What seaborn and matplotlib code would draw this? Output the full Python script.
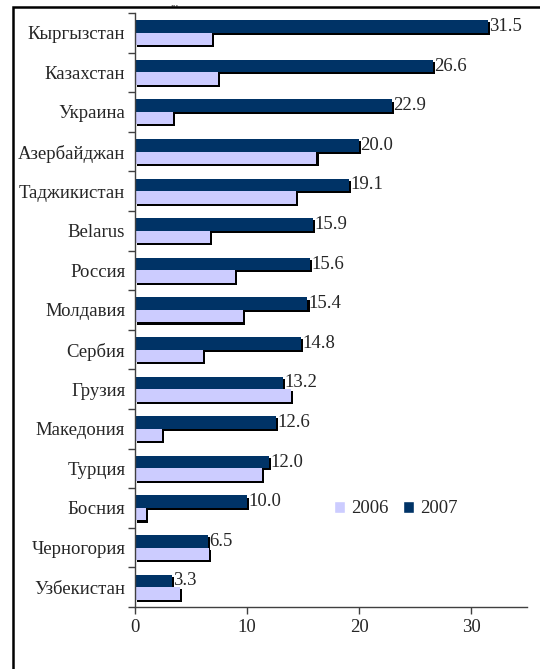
"""Horizontal bar chart 2006 vs 2007 by country."""

import matplotlib.pyplot as plt
import matplotlib.patheffects as pe
import pandas as pd
import seaborn as sns
from matplotlib.patches import Patch, Rectangle
from matplotlib.ticker import FixedLocator

countries = [
    "Кыргызстан", "Казахстан", "Украина", "Азербайджан", "Таджикистан",
    "Belarus", "Россия", "Молдавия", "Сербия", "Грузия",
    "Македония", "Турция", "Босния", "Черногория", "Узбекистан",
]
values_2006 = [6.9, 7.4, 3.4, 16.2, 14.4, 6.7, 8.9, 9.6, 6.1, 13.9,
               2.4, 11.3, 1.0, 6.6, 4.0]
values_2007 = [31.5, 26.6, 22.9, 20.0, 19.1, 15.9, 15.6, 15.4, 14.8, 13.2,
               12.6, 12.0, 10.0, 6.5, 3.3]
years = ["2006", "2007"]
colors = {"2006": "#CCCCFF", "2007": "#003366"}

df = pd.DataFrame({
    "country": countries * 2,
    "value": values_2006 + values_2007,
    "year": ["2006"] * len(countries) + ["2007"] * len(countries),
})

sns.set_theme(style="white")
plt.rcParams["font.family"] = ["Liberation Serif", "DejaVu Serif"]
fs = 13.5

fig = plt.figure(figsize=(5.4, 6.69), dpi=100)
ax = fig.add_axes([0.25, 0.0927, 0.726, 0.888])

sns.barplot(
    data=df, y="country", x="value", hue="year",
    hue_order=["2007", "2006"], palette=colors, order=countries,
    width=0.63, orient="h", legend=False, ax=ax, saturation=1,
    linewidth=0, edgecolor="none",
)

shadow = [pe.SimplePatchShadow(offset=(1.5, -1.5), shadow_rgbFace="black",
                               alpha=1.0), pe.Normal()]
for bar in ax.patches:
    bar.set_path_effects(shadow)

ax.bar_label(ax.containers[0], fmt="%.1f", padding=1, fontsize=fs)

ax.set_xlim(0, 35)
ax.set_ylim(len(countries) - 0.5, -0.5)
ax.set_xticks([0, 10, 20, 30])
ax.set_xlabel("")
ax.set_ylabel("")

# tick marks between categories
ax.yaxis.set_minor_locator(FixedLocator([i - 0.5 for i in range(len(countries) + 1)]))
ax.tick_params(axis="y", which="major", length=0, labelsize=fs, pad=7)
ax.tick_params(axis="y", which="minor", left=True, length=5, width=1,
               color="#404040")
ax.tick_params(axis="x", which="major", bottom=True, length=5, width=1,
               color="#404040", labelsize=fs, pad=4)

for side in ["top", "right"]:
    ax.spines[side].set_visible(False)
for side in ["left", "bottom"]:
    ax.spines[side].set_color("#404040")
    ax.spines[side].set_linewidth(1)

handles = [Patch(facecolor=colors[y], label=y) for y in years]
ax.legend(handles=handles, ncol=2, frameon=False, loc="center",
          bbox_to_anchor=(0.665, 0.165), handlelength=0.6, handleheight=0.6,
          columnspacing=0.8, handletextpad=0.3, fontsize=fs)

# outer frame, cut off on the right and bottom like the original
fig.add_artist(Rectangle((13 / 540, -0.5), 2, 0.5 + (1 - 7 / 669),
                         transform=fig.transFigure, fill=False,
                         edgecolor="black", linewidth=1.8))
fig.text(175 / 540, 0.9995, "...", ha="center", va="top", fontsize=8,
         fontweight="bold")

fig.savefig("out.png", dpi=100)
